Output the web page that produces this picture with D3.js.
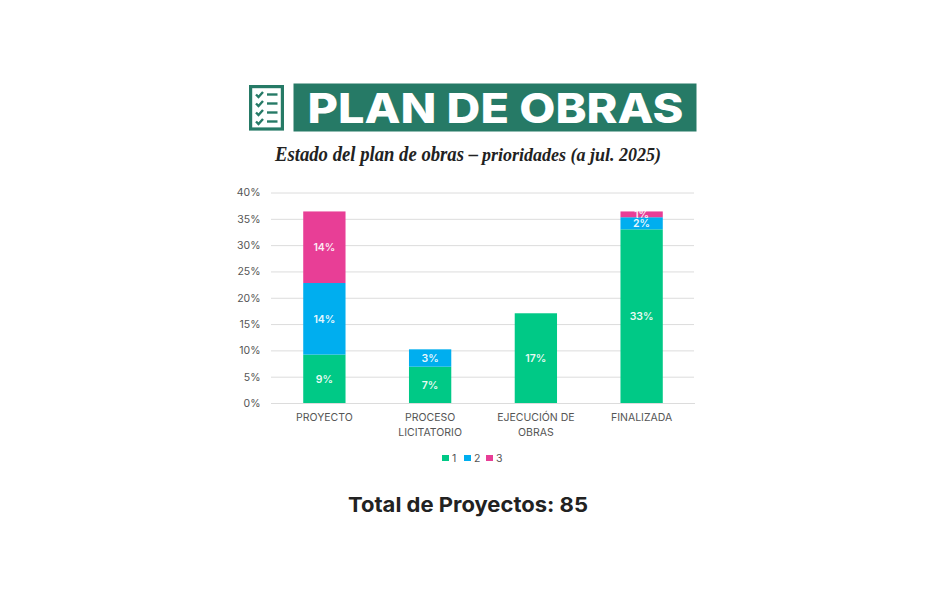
<!DOCTYPE html>
<html>
<head>
<meta charset="utf-8">
<script src="https://cdn.jsdelivr.net/npm/d3@7"></script>
<style>
  html, body { margin: 0; padding: 0; background: #fff; }
  svg { display: block; }
  text { font-family: Inter, "Open Sans", sans-serif; }
</style>
</head>
<body>
<div id="container"></div>
<script>
//------------------------DATA------------------------//
const categories = [['PROYECTO'], ['PROCESO', 'LICITATORIO'], ['EJECUCIÓN DE', 'OBRAS'], ['FINALIZADA']];
const seriesNames = ['1', '2', '3'];
const serie1 = [9.2, 6.9, 17.05, 33.0];
const serie2 = [13.6, 3.3, 0, 2.3];
const serie3 = [13.6, 0, 0, 1.1];
const yTicks = [0, 5, 10, 15, 20, 25, 30, 35, 40];
const colors = ['#00c986', '#00aeef', '#e83e96'];
const headerTitle = 'PLAN DE OBRAS';
const subtitleA = 'Estado del plan de obras –';
const subtitleB = 'prioridades (a jul. 2025)';
const footer = 'Total de Proyectos: 85';
const iconRows = [0, 1, 2, 3];

//------------------------SVG PREPARATION------------------------//
const width = 939;
const height = 608;
const svg = d3.select('div#container').append('svg')
    .attr('width', width)
    .attr('height', height);

//------------------------HEADER------------------------//
const green = '#267a66';
svg.append('rect')
    .attr('x', 293.5).attr('y', 83.5)
    .attr('width', 403).attr('height', 48)
    .attr('fill', green);
svg.append('text')
    .attr('x', 307.5).attr('y', 122.5)
    .attr('textLength', 376).attr('lengthAdjust', 'spacingAndGlyphs')
    .style('font-family', 'Inter')
    .style('font-size', '41px')
    .style('font-weight', 800)
    .style('fill', '#fff')
    .text(headerTitle);

// checklist icon
const icon = svg.append('g').attr('transform', 'translate(249,85)');
icon.append('rect')
    .attr('x', 1.6).attr('y', 1.6)
    .attr('width', 31.8).attr('height', 42.4)
    .attr('fill', '#fff')
    .attr('stroke', green)
    .attr('stroke-width', 3.2);
icon.selectAll('path.check')
    .data(iconRows)
    .enter()
    .append('path')
    .attr('class', 'check')
    .attr('d', (d) => `M7 ${9.5 + d * 9}l2.5 2.5l4.5 -5`)
    .attr('fill', 'none')
    .attr('stroke', green)
    .attr('stroke-width', 2.4);
icon.selectAll('line.row')
    .data(iconRows)
    .enter()
    .append('line')
    .attr('class', 'row')
    .attr('x1', 18).attr('x2', 28.5)
    .attr('y1', (d) => 9.5 + d * 9)
    .attr('y2', (d) => 9.5 + d * 9)
    .attr('stroke', green)
    .attr('stroke-width', 2.4);

// subtitle, two sizes like the original
svg.append('text')
    .attr('x', 275).attr('y', 161)
    .attr('textLength', 203).attr('lengthAdjust', 'spacingAndGlyphs')
    .style('font-family', '"Liberation Serif"')
    .style('font-size', '20px')
    .style('font-weight', 700)
    .style('font-style', 'italic')
    .style('fill', '#222')
    .text(subtitleA);
svg.append('text')
    .attr('x', 482).attr('y', 161)
    .attr('textLength', 179).attr('lengthAdjust', 'spacingAndGlyphs')
    .style('font-family', '"Liberation Serif"')
    .style('font-size', '18px')
    .style('font-weight', 700)
    .style('font-style', 'italic')
    .style('fill', '#222')
    .text(subtitleB);

//------------------------SCALES------------------------//
const x = d3.scaleBand()
    .domain(d3.range(categories.length))
    .range([271.5, 694.5])
    .paddingInner(0.6)
    .paddingOuter(0.3);
const y = d3.scaleLinear().domain([0, 40]).range([403, 192.5]);

//------------------------AXES------------------------//
const yAxis = svg.append('g')
    .attr('transform', 'translate(271,0)')
    .call(d3.axisLeft(y).tickValues(yTicks).tickFormat((d) => `${d}%`).tickSize(-423).tickPadding(10.5));
yAxis.select('.domain').remove();
yAxis.selectAll('line').attr('stroke', '#dcdcdc').attr('stroke-width', 1);
yAxis.selectAll('text')
    .style('font-size', '10.5px')
    .style('fill', '#555');

const xAxis = svg.append('g')
    .attr('transform', 'translate(0,403)')
    .call(d3.axisBottom(x).tickSize(0).tickFormat(''));
xAxis.select('.domain').attr('stroke', '#dcdcdc');
xAxis.selectAll('.tick text').each(function (d) {
  const label = d3.select(this).attr('y', 18).attr('dy', 0)
      .style('font-size', '10.5px')
      .style('fill', '#555');
  categories[d].forEach((line, i) => {
    label.append('tspan')
        .attr('x', 0)
        .attr('dy', i === 0 ? 0 : 14.5)
        .text(line);
  });
});

//------------------------BARS------------------------//
const rows = categories.map((c, i) => ({ i, s0: serie1[i], s1: serie2[i], s2: serie3[i] }));
const stacked = d3.stack().keys(['s0', 's1', 's2'])(rows);

const layers = svg.selectAll('g.layer')
    .data(stacked)
    .enter()
    .append('g')
    .attr('class', 'layer')
    .attr('fill', (d, i) => colors[i]);
layers.selectAll('rect')
    .data((d) => d.filter((p) => p[1] > p[0]))
    .enter()
    .append('rect')
    .attr('x', (d) => x(d.data.i))
    .attr('y', (d) => y(d[1]))
    .attr('width', x.bandwidth())
    .attr('height', (d) => y(d[0]) - y(d[1]));
layers.selectAll('text')
    .data((d) => d.filter((p) => p[1] > p[0]))
    .enter()
    .append('text')
    .attr('x', (d) => x(d.data.i) + x.bandwidth() / 2)
    .attr('y', (d) => (y(d[0]) + y(d[1])) / 2 + 4)
    .attr('text-anchor', 'middle')
    .style('font-size', '10.5px')
    .style('font-weight', 600)
    .style('fill', '#fff')
    .style('fill-opacity', 0.92)
    .text((d) => `${Math.round(d[1] - d[0])}%`);

//------------------------LEGEND------------------------//
const legendX = d3.scalePoint().domain(seriesNames).range([442, 486]);
const legend = svg.selectAll('g.legend')
    .data(seriesNames)
    .enter()
    .append('g')
    .attr('class', 'legend')
    .attr('transform', (d) => `translate(${legendX(d)},455)`);
legend.append('rect')
    .attr('width', 7).attr('height', 6)
    .attr('fill', (d, i) => colors[i]);
legend.append('text')
    .attr('x', 10).attr('y', 6.5)
    .style('font-size', '10.5px')
    .style('fill', '#555')
    .text((d) => d);

//------------------------FOOTER------------------------//
svg.append('text')
    .attr('x', 348).attr('y', 511.5)
    .attr('textLength', 240).attr('lengthAdjust', 'spacingAndGlyphs')
    .style('font-size', '20.5px')
    .style('font-weight', 700)
    .style('fill', '#222')
    .text(footer);
</script>
</body>
</html>
